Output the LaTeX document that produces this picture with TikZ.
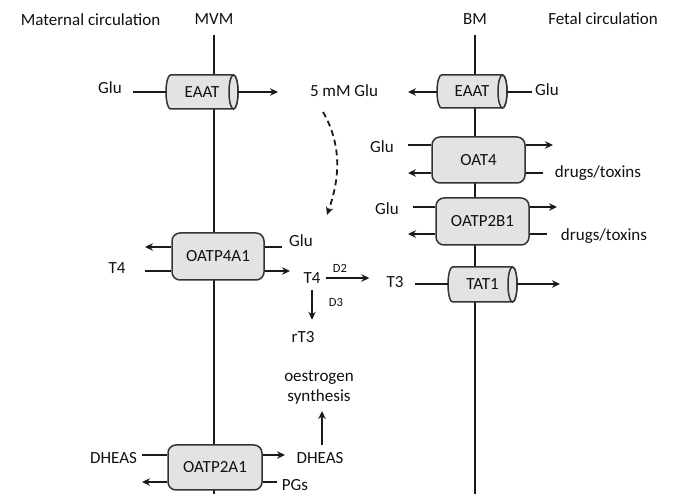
\documentclass[tikz,border=0pt]{standalone}
\usepackage{fontspec}
\setmainfont{Carlito}
\usetikzlibrary{arrows.meta,calc}
\definecolor{linec}{HTML}{1A1A1A}
\definecolor{boxline}{HTML}{333333}
\definecolor{boxfill}{HTML}{E3E3E3}
\definecolor{txt}{HTML}{111111}
\newcommand\lblfont{\fontsize{17}{20}\selectfont}
\newcommand\smlfont{\fontsize{12.5}{14}\selectfont}
\tikzset{
  ln/.style={line width=1.8pt, draw=linec},
  mem/.style={line width=1.9pt, draw=linec},
  arr/.style={ln, -{Stealth[length=8pt,width=7.5pt]}},
  lbl/.style={inner sep=0pt, anchor=base, font=\lblfont, text=txt},
  sml/.style={inner sep=0pt, anchor=base, font=\smlfont, text=txt},
  rbox/.style={draw=boxline, fill=boxfill, line width=1.5pt, rounded corners=8pt, inner sep=0pt, font=\lblfont, text=txt},
  cyl/.style={draw=boxline, fill=boxfill, line width=1.5pt},
  boxtext/.style={inner sep=0pt, font=\lblfont, text=txt},
}
\newcommand\cylnode[6]{%
  \pgfmathsetmacro\cxa{#2+4.5}\pgfmathsetmacro\cxb{#4-4.5}%
  \pgfmathsetmacro\cry{(#5-#3)/2}\pgfmathsetmacro\cyc{(#3+#5)/2}%
  \pgfmathsetmacro\ccx{(#2+#4)/2}\pgfmathsetmacro\cw{#4-#2}\pgfmathsetmacro\ch{#5-#3}%
  \filldraw[cyl] (\cxb,#3) -- (\cxa,#3) arc[start angle=90,end angle=270,x radius=4.5pt,y radius=\cry pt] -- (\cxb,#5) arc[start angle=-90,end angle=90,x radius=4.5pt,y radius=\cry pt] -- cycle;
  \draw[cyl] (\cxb,\cyc) ellipse[x radius=4.5pt,y radius=\cry pt];
  \node[boxtext, minimum width=\cw pt, minimum height=\ch pt] (#1) at (\ccx,\cyc) {#6};
}
\begin{document}
\begin{tikzpicture}[x=1pt,y=-1pt]
\useasboundingbox (0,0) rectangle (673,494);
\fill[white] (0,0) rectangle (673,494);

% headers
\node[lbl] (mat) at (90.5,26) {Maternal circulation};
\node[lbl] (mvm) at (214,25) {MVM};
\node[lbl] (bm) at (475,25) {BM};
\node[lbl] (fet) at (603,25) {Fetal circulation};

% membranes
\coordinate (mvmtop) at (214,35); \coordinate (mvmbot) at (214,494);
\coordinate (bmtop) at (475,35); \coordinate (bmbot) at (475,494);
\draw[mem] (mvmtop) -- (mvmbot);
\draw[mem] (bmtop) -- (bmbot);

% ---- EAAT (MVM)
\cylnode{eaatL}{166}{75}{238}{109}{EAAT}
\node[lbl] (gluA) at (110,94) {Glu};
\coordinate (gluAend) at (133,92);
\draw[ln] (gluAend) -- (eaatL.west |- gluAend);
\node[lbl] (glu5) at (344,97) {5 mM Glu};
\coordinate (eaatLout) at (278,92);
\draw[arr] (eaatL.east |- eaatLout) -- (eaatLout);

% ---- EAAT (BM)
\cylnode{eaatR}{437}{75}{507}{108}{EAAT}
\coordinate (eaatRout) at (408,92);
\draw[arr] (eaatR.west |- eaatRout) -- (eaatRout);
\node[lbl] (gluB) at (547,96) {Glu};
\coordinate (gluBend) at (532,92);
\draw[ln] (gluBend) -- (eaatR.east |- gluBend);

% dashed curve
\coordinate (dA) at (323,112); \coordinate (dB) at (327,215);
\draw[arr, dashed, dash pattern=on 6pt off 4pt] (dA) .. controls (345,150) and (337,186) .. (dB);

% ---- OAT4
\node[rbox, minimum width=93pt, minimum height=46pt] (oat4) at (478.5,160) {OAT4};
\coordinate (o4a) at (408,145); \draw[ln] (o4a) -- (oat4.west |- o4a);
\coordinate (o4b) at (553,145); \draw[arr] (oat4.east |- o4b) -- (o4b);
\coordinate (o4c) at (408,173); \draw[arr] (oat4.west |- o4c) -- (o4c);
\coordinate (o4d) at (543,173); \draw[ln] (oat4.east |- o4d) -- (o4d);
\node[lbl] (gluC) at (382,153) {Glu};
\node[lbl] (drugA) at (598,178) {drugs/toxins};

% ---- OATP2B1
\node[rbox, minimum width=93pt, minimum height=47pt] (oatp2b1) at (482.5,221.5) {OATP2B1};
\coordinate (p2a) at (413,207); \draw[ln] (p2a) -- (oatp2b1.west |- p2a);
\coordinate (p2b) at (557,207); \draw[arr] (oatp2b1.east |- p2b) -- (p2b);
\coordinate (p2c) at (408,234); \draw[arr] (oatp2b1.west |- p2c) -- (p2c);
\coordinate (p2d) at (547,234); \draw[ln] (oatp2b1.east |- p2d) -- (p2d);
\node[lbl] (gluD) at (387,215) {Glu};
\node[lbl] (drugB) at (604,241) {drugs/toxins};

% ---- TAT1
\cylnode{tat1}{448}{267}{517}{302}{TAT1}
\node[lbl] (T3) at (395,288) {T3};
\coordinate (t3a) at (415,284); \draw[ln] (t3a) -- (tat1.west |- t3a);
\coordinate (t3b) at (560,284); \draw[arr] (tat1.east |- t3b) -- (t3b);

% ---- OATP4A1
\node[rbox, minimum width=92pt, minimum height=47pt] (oatp4a1) at (218,256.5) {OATP4A1};
\coordinate (p4a) at (145,247); \draw[arr] (oatp4a1.west |- p4a) -- (p4a);
\coordinate (p4b) at (282,247); \draw[ln] (oatp4a1.east |- p4b) -- (p4b);
\coordinate (p4c) at (145,271); \draw[ln] (p4c) -- (oatp4a1.west |- p4c);
\coordinate (p4d) at (290,271); \draw[arr] (oatp4a1.east |- p4d) -- (p4d);
\node[lbl] (gluE) at (301,247) {Glu};
\node[lbl] (T4L) at (117,274) {T4};
\node[lbl] (T4R) at (312,283.5) {T4};
\node[lbl] (rT3) at (303,343) {rT3};
\draw[arr, shorten <=5pt, shorten >=17pt] (T4R.east) -- (T4R.east -| T3.west);
\draw[arr, shorten <=6pt, shorten >=12pt] (T4R.south) -- (T4R.south |- rT3.north);
\node[sml] (D2) at (340,273) {D2};
\node[sml] (D3) at (336,307) {D3};

% ---- oestrogen
\node[inner sep=0pt, font=\lblfont, text=txt, align=center] (oest) at (319,387) {oestrogen\\synthesis};

% ---- OATP2A1
\node[rbox, minimum width=94pt, minimum height=45pt] (oatp2a1) at (215,467.5) {OATP2A1};
\coordinate (q1) at (142,455); \draw[ln] (q1) -- (oatp2a1.west |- q1);
\coordinate (q2) at (285,455); \draw[arr] (oatp2a1.east |- q2) -- (q2);
\coordinate (q3) at (142,482); \draw[arr] (oatp2a1.west |- q3) -- (q3);
\coordinate (q4) at (277,482); \draw[ln] (oatp2a1.east |- q4) -- (q4);
\node[lbl] (dheasL) at (113.5,464) {DHEAS};
\node[lbl] (dheasR) at (320,464) {DHEAS};
\node[lbl] (pgs) at (295,491) {PGs};
\coordinate (eA) at (322,445); \coordinate (eB) at (322,411);
\draw[arr] (eA) -- (eB);
\end{tikzpicture}
\end{document}
